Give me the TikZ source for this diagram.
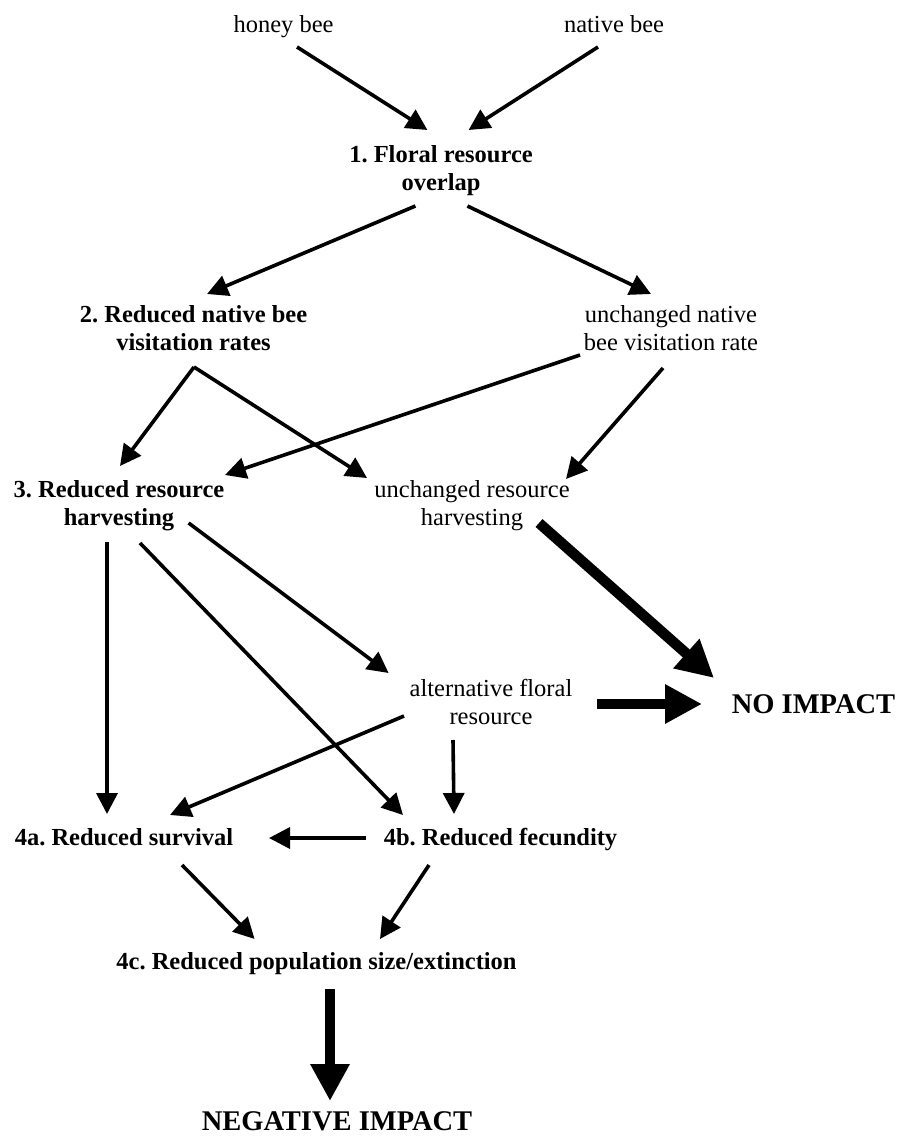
\documentclass[tikz,border=0pt]{standalone}
\usepackage{fontspec}
\setmainfont{Liberation Serif}
\usetikzlibrary{arrows.meta,calc}
\frenchspacing
\begin{document}
\begin{tikzpicture}[x=1pt,y=-1pt,
  lbl/.style={inner sep=0pt, outer sep=0pt, align=center, font=\fontsize{24.5}{28}\selectfont},
  bl/.style={lbl, font=\fontsize{24.5}{28}\selectfont\bfseries},
  big/.style={inner sep=0pt, outer sep=0pt, font=\fontsize{28.5}{32}\selectfont\bfseries},
  arr/.style={line width=3.6pt, -{Triangle[length=21pt,width=21pt]}},
  fat/.style={line width=10.5pt, -{Triangle[length=37pt,width=37pt]}}]
\useasboundingbox (0,0) rectangle (897,1137);
% nodes
\node[lbl, anchor=base] (hb) at (283.5,33) {honey bee};
\node[lbl, anchor=base] (nb) at (614,33) {native bee};
\node[bl] (n1) at (441,170.6) {1. Floral resource\\overlap};
\node[bl] (n2) at (193.5,328.6) {2. Reduced native bee\\visitation rates};
\node[lbl] (un) at (671,328.6) {unchanged native\\bee visitation rate};
\node[bl] (n3) at (119,505.3) {3. Reduced resource\\harvesting};
\node[lbl] (ur) at (472,505.3) {unchanged resource\\harvesting};
\node[lbl] (alt) at (491,701.7) {alternative floral\\resource};
\node[big, anchor=base] (no) at (813.5,713) {NO IMPACT};
\node[bl, anchor=base] (a4) at (124,845) {4a. Reduced survival};
\node[bl, anchor=base] (b4) at (500.5,845) {4b. Reduced fecundity};
\node[bl, anchor=base] (c4) at (316.5,969) {4c. Reduced population size/extinction};
\node[big, anchor=base] (neg) at (337,1130) {NEGATIVE IMPACT};
% connectors
\draw[arr] ([shift={(13.5,14)}]hb.base) -- ([shift={(-13.6,-40.6)}]n1.center);
\draw[arr] ([shift={(-16,14)}]nb.base) -- ([shift={(27.6,-40.6)}]n1.center);
\draw[arr] ([shift={(-25.6,35.4)}]n1.center) -- ([shift={(13.5,-34.6)}]n2.center);
\draw[arr] ([shift={(26.4,35.4)}]n1.center) -- ([shift={(-20,-34.6)}]un.center);
\draw[arr] ([shift={(0.5,38.4)}]n2.center) -- ([shift={(1,-39.3)}]n3.center);
\draw[arr] ([shift={(0.5,38.4)}]n2.center) -- ([shift={(-105,-27.3)}]ur.center);
\draw[arr] ([shift={(-91,26.4)}]un.center) -- ([shift={(106,-30.3)}]n3.center);
\draw[arr] ([shift={(-8,39.4)}]un.center) -- ([shift={(94,-26.3)}]ur.center);
\draw[arr] ([shift={(-12,36.7)}]n3.center) -- ([shift={(-17,-31)}]a4.base);
\draw[arr] ([shift={(21,37.7)}]n3.center) -- ([shift={(-97.5,-30)}]b4.base);
\draw[arr] ([shift={(69.6,17.7)}]n3.center) -- ([shift={(-102.4,-28.7)}]alt.center);
\draw[fat] ([shift={(67,17.7)}]ur.center) -- ([shift={(-99.5,-35)}]no.base);
\draw[fat] ([shift={(106,2.3)}]alt.center) -- ([shift={(-111.5,-9)}]no.base);
\draw[arr] ([shift={(-87,14.3)}]alt.center) -- ([shift={(46,-30)}]a4.base);
\draw[arr] ([shift={(-38,38.3)}]alt.center) -- ([shift={(-46.5,-31)}]b4.base);
\draw[arr] ([shift={(-134.5,-7)}]b4.base) -- ([shift={(145,-7)}]a4.base);
\draw[arr] ([shift={(58,20)}]a4.base) -- ([shift={(-61.9,-30)}]c4.base);
\draw[arr] ([shift={(-71.5,20)}]b4.base) -- ([shift={(63.5,-30)}]c4.base);
\draw[fat] ([shift={(13.5,20)}]c4.base) -- ([shift={(-7,-29)}]neg.base);
\end{tikzpicture}
\end{document}
